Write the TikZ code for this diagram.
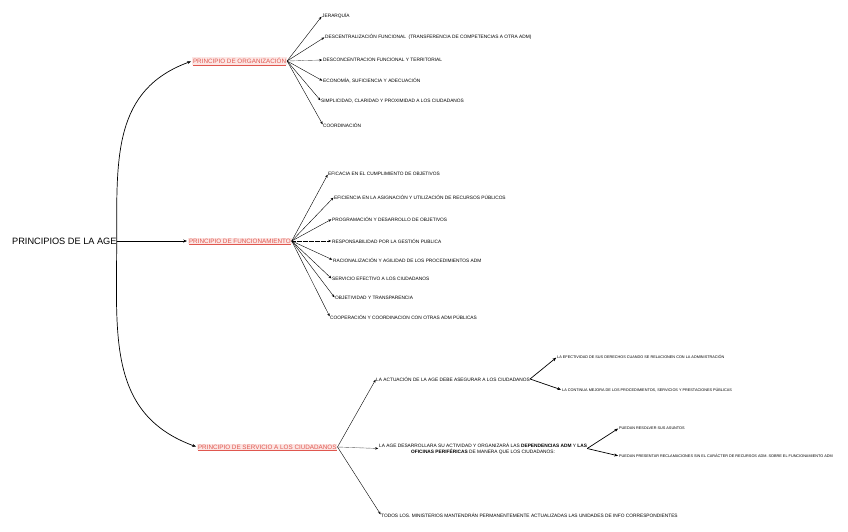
\documentclass[tikz,border=0pt]{standalone}
\usepackage{fontspec}
\setmainfont{Liberation Sans}
\usepackage{tikz}
\usetikzlibrary{positioning, arrows.meta, calc}

\definecolor{rojorama}{HTML}{E0574F}
\definecolor{fondorama}{HTML}{FCE6E4}

\begin{document}
\begin{tikzpicture}[x=1pt, y=-1pt, inner sep=0pt]
        \tikzstyle{raiz} = [font=\fontsize{9.2}{10}\selectfont]
        \tikzstyle{principio} = [anchor=west, text=rojorama, fill=fondorama, inner sep=0.8pt, font=\fontsize{6.3}{7}\selectfont]
        \tikzstyle{hoja} = [anchor=west, font=\fontsize{4.8}{5.8}\selectfont]
        \tikzstyle{hojita} = [anchor=west, font=\fontsize{3.8}{4.5}\selectfont]
        \tikzstyle{flecha} = [line width=0.4pt, -{Stealth[length=3pt, width=2.4pt]}, shorten >=0.8pt]
        \tikzstyle{punteada} = [flecha, dash pattern=on 0.6pt off 0.6pt]
        \tikzstyle{gruesa} = [line width=0.7pt, -{Stealth[length=3.8pt, width=3pt]}, shorten >=1pt]
        \tikzstyle{subrayado} = [rojorama, line width=0.4pt]

        \useasboundingbox (0,0) rectangle (848,531);

        % raiz y principios
        \node [raiz, anchor=west] (raiz) at (12,241) {PRINCIPIOS DE LA AGE};
        \node [principio] (org) at (192,61) {PRINCIPIO DE ORGANIZACIÓN};
        \node [principio] (func) at (188,241) {PRINCIPIO DE FUNCIONAMIENTO};
        \node [principio] (serv) at (197,447) {PRINCIPIO DE SERVICIO A LOS CIUDADANOS};

        \draw [subrayado] (org.base west) ++(0.8,1) -- ($(org.base east)+(-0.8,1)$);
        \draw [subrayado] (func.base west) ++(0.8,1) -- ($(func.base east)+(-0.8,1)$);
        \draw [subrayado] (serv.base west) ++(0.8,1) -- ($(serv.base east)+(-0.8,1)$);

        \draw [gruesa] (raiz.east) to[out=90, in=200, looseness=1.1] (org.west);
        \draw [gruesa] (raiz.east) -- (func.west);
        \draw [gruesa] (raiz.east) to[out=-90, in=160, looseness=1.1] (serv.west);

        % organizacion
        \node [hoja] (jer) at (322,16) {JERARQUÍA};
        \node [hoja] (desc) at (325,37) {DESCENTRALIZACIÓN FUNCIONAL \ (TRANSFERENCIA DE COMPETENCIAS A OTRA ADM)};
        \node [hoja] (descon) at (323,60) {DESCONCENTRACION FUNCIONAL Y TERRITORIAL};
        \node [hoja] (econ) at (323,81) {ECONOMÍA, SUFICIENCIA Y ADECUACIÓN};
        \node [hoja] (simp) at (321,101) {SIMPLICIDAD, CLARIDAD Y PROXIMIDAD A LOS CIUDADANOS};
        \node [hoja] (coord) at (323,125) {COORDINACIÓN};

        \draw [flecha] (org.east) -- (jer.west);
        \draw [flecha] (org.east) -- (desc.west);
        \draw [punteada] (org.east) -- (descon.west);
        \draw [flecha] (org.east) -- (econ.west);
        \draw [flecha] (org.east) -- (simp.west);
        \draw [flecha] (org.east) -- (coord.west);

        % funcionamiento
        \node [hoja] (efic) at (328,174) {EFICACIA EN EL CUMPLIMIENTO DE OBJETIVOS};
        \node [hoja] (efici) at (334,197) {EFICIENCIA EN LA ASIGNACIÓN Y UTILIZACIÓN DE RECURSOS PÚBLICOS};
        \node [hoja] (prog) at (332,219) {PROGRAMACIÓN Y DESARROLLO DE OBJETIVOS};
        \node [hoja] (resp) at (332,241) {RESPONSABILIDAD POR LA GESTIÓN PUBLICA};
        \node [hoja] (racio) at (333,260) {RACIONALIZACIÓN Y AGILIDAD DE LOS PROCEDIMIENTOS ADM};
        \node [hoja] (servef) at (332,279) {SERVICIO EFECTIVO A LOS CIUDADANOS};
        \node [hoja] (objet) at (335,298) {OBJETIVIDAD Y TRANSPARENCIA};
        \node [hoja] (coop) at (330,317) {COOPERACIÓN Y COORDINACION CON OTRAS ADM PÚBLICAS};

        \draw [flecha] (func.east) -- (efic.west);
        \draw [flecha] (func.east) -- (efici.west);
        \draw [flecha] (func.east) -- (prog.west);
        \draw [punteada] (func.east) -- (resp.west);
        \draw [flecha] (func.east) -- (racio.west);
        \draw [flecha] (func.east) -- (servef.west);
        \draw [flecha] (func.east) -- (objet.west);
        \draw [flecha] (func.east) -- (coop.west);

        % servicio a los ciudadanos
        \node [hoja] (actua) at (376,379) {LA ACTUACIÓN DE LA AGE DEBE ASEGURAR A LOS CIUDADANOS};
        \node [hoja, align=center] (desarr) at (379,448.5) {LA AGE DESARROLLARA SU ACTIVIDAD Y ORGANIZARÁ LAS \textbf{DEPENDENCIAS ADM} Y \textbf{LAS}\\\textbf{OFICINAS PERIFÉRICAS} DE MANERA QUE LOS CIUDADANOS:};
        \node [hoja] (todos) at (381,515) {TODOS LOS. MINISTERIOS MANTENDRÁN PERMANENTEMENTE ACTUALIZADAS LAS UNIDADES DE INFO CORRESPONDIENTES};

        \draw [flecha] (serv.east) -- (actua.west);
        \draw [punteada] (serv.east) -- (desarr.west);
        \draw [flecha] (serv.east) -- (todos.west);

        \node [hojita] (efect) at (557,357) {LA EFECTIVIDAD DE SUS DERECHOS CUANDO SE RELACIONEN CON LA ADMINISTRACIÓN};
        \node [hojita] (mejora) at (562,390) {LA CONTINUA MEJORA DE LOS PROCEDIMIENTOS, SERVICIOS Y PRESTACIONES PÚBLICAS};
        \node [hojita] (resol) at (619,428) {PUEDAN RESOLVER SUS ASUNTOS};
        \node [hojita] (recla) at (619,456) {PUEDAN PRESENTAR RECLAMACIONES SIN EL CARÁCTER DE RECURSOS ADM. SOBRE EL FUNCIONAMIENTO ADM};

        \draw [gruesa] (actua.east) -- (efect.west);
        \draw [gruesa] (actua.east) -- (mejora.west);
        \draw [gruesa] (desarr.east) -- (resol.west);
        \draw [gruesa] (desarr.east) -- (recla.west);
    \end{tikzpicture}
\end{document}
